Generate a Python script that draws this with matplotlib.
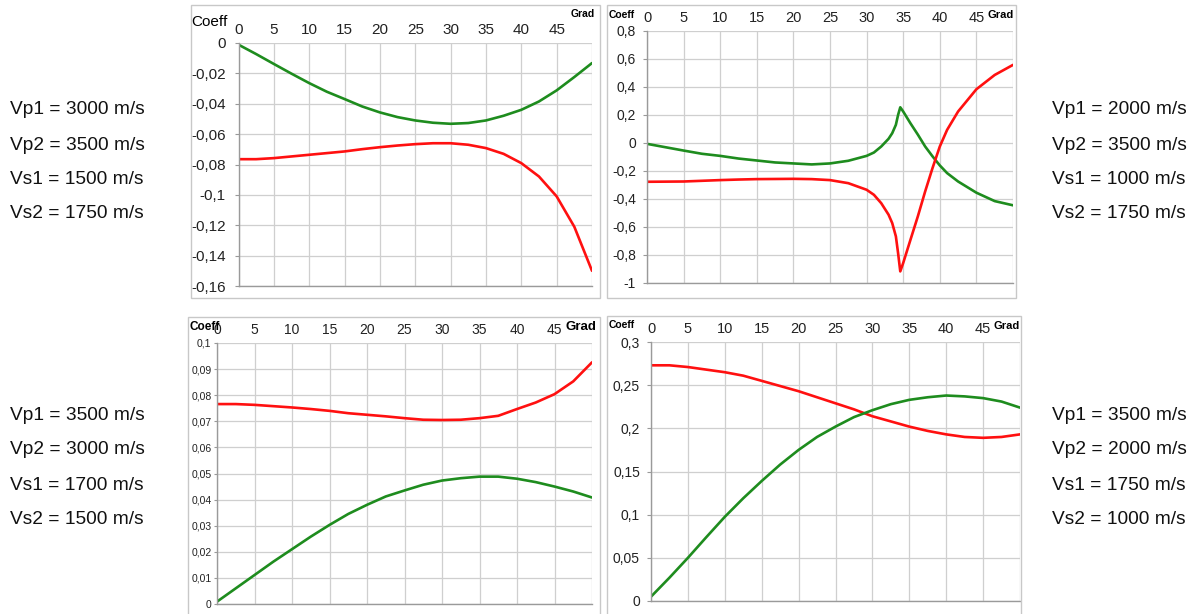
import numpy as np
import matplotlib.pyplot as plt
from matplotlib.patches import Rectangle
from matplotlib.ticker import FuncFormatter

plt.rcParams['font.family'] = ['Liberation Sans', 'DejaVu Sans']

# ---------------- data ----------------
# panel 1 : Vp1 3000, Vp2 3500, Vs1 1500, Vs2 1750
ang1 = [0, 2.5, 5, 7.5, 10, 12.5, 15, 17.5, 20, 22.5, 25, 27.5, 30, 32.5, 35,
        37.5, 40, 42.5, 45, 47.5, 50]
green1 = [-0.0011, -0.0073, -0.0138, -0.0202, -0.0264, -0.0321, -0.0369,
          -0.0418, -0.0457, -0.0488, -0.051, -0.0525, -0.0532, -0.0527, -0.051,
          -0.0479, -0.044, -0.0385, -0.0312, -0.0224, -0.0132]
red1 = [-0.0765, -0.0765, -0.0758, -0.0747, -0.0736, -0.0725, -0.0714, -0.0699,
        -0.0686, -0.0675, -0.0666, -0.066, -0.066, -0.067, -0.0692, -0.073,
        -0.0791, -0.0879, -0.101, -0.121, -0.15]

# panel 2 : Vp1 2000, Vp2 3500, Vs1 1000, Vs2 1750
ang2 = [0, 2.5, 5, 7.5, 10, 12.5, 15, 17.5, 20, 22.5, 25, 27.5, 30, 31, 32,
        33, 33.5, 34, 34.3, 34.6, 35, 36, 37, 38, 39, 40, 41, 42.5, 45, 47.5, 50]
green2 = [-0.006, -0.030, -0.054, -0.077, -0.092, -0.111, -0.125, -0.139,
          -0.146, -0.153, -0.146, -0.127, -0.092, -0.068, -0.025, 0.03, 0.07,
          0.13, 0.2, 0.255, 0.225, 0.14, 0.06, -0.025, -0.095, -0.16, -0.215,
          -0.275, -0.355, -0.415, -0.445]
red2 = [-0.277, -0.276, -0.275, -0.27, -0.265, -0.261, -0.258, -0.257, -0.256,
        -0.258, -0.265, -0.287, -0.334, -0.37, -0.43, -0.512, -0.572, -0.667,
        -0.786, -0.917, -0.857, -0.69, -0.524, -0.346, -0.18, -0.025, 0.094,
        0.225, 0.384, 0.486, 0.558]

# panel 3 : Vp1 3500, Vp2 3000, Vs1 1700, Vs2 1500
ang3 = [0, 2.5, 5, 7.5, 10, 12.5, 15, 17.5, 20, 22.5, 25, 27.5, 30, 32.5, 35,
        37.5, 40, 42.5, 45, 47.5, 50]
red3 = [0.0766, 0.0766, 0.0763, 0.0758, 0.0753, 0.0747, 0.074, 0.0731, 0.0725,
        0.0719, 0.0712, 0.0706, 0.0705, 0.0706, 0.0712, 0.0721, 0.0747, 0.0772,
        0.0804, 0.0853, 0.0926]
green3 = [0.0009, 0.006, 0.0111, 0.0162, 0.021, 0.0258, 0.0303, 0.0345, 0.038,
          0.0412, 0.0435, 0.0457, 0.0473, 0.0482, 0.0488, 0.0488, 0.048, 0.0467,
          0.045, 0.0431, 0.0408]

# panel 4 : Vp1 3500, Vp2 2000, Vs1 1750, Vs2 1000
ang4 = [0, 2.5, 5, 7.5, 10, 12.5, 15, 17.5, 20, 22.5, 25, 27.5, 30, 32.5, 35,
        37.5, 40, 42.5, 45, 47.5, 50]
red4 = [0.273, 0.273, 0.271, 0.268, 0.265, 0.261, 0.255, 0.249, 0.243, 0.236,
        0.229, 0.222, 0.214, 0.208, 0.202, 0.197, 0.193, 0.19, 0.189, 0.19,
        0.193]
green4 = [0.005, 0.027, 0.050, 0.074, 0.0975, 0.119, 0.139, 0.158, 0.175, 0.19,
          0.202, 0.213, 0.221, 0.228, 0.233, 0.236, 0.238, 0.237, 0.235, 0.231,
          0.224]

labels1 = ['Vp1 = 3000 m/s', 'Vp2 = 3500 m/s', 'Vs1 = 1500 m/s', 'Vs2 = 1750 m/s']
labels2 = ['Vp1 = 2000 m/s', 'Vp2 = 3500 m/s', 'Vs1 = 1000 m/s', 'Vs2 = 1750 m/s']
labels3 = ['Vp1 = 3500 m/s', 'Vp2 = 3000 m/s', 'Vs1 = 1700 m/s', 'Vs2 = 1500 m/s']
labels4 = ['Vp1 = 3500 m/s', 'Vp2 = 2000 m/s', 'Vs1 = 1750 m/s', 'Vs2 = 1000 m/s']

W, H = 1195, 614
GREEN = '#1e8c1e'
RED = '#ff1010'
GRID = '#cfcfcf'


def px(x, y):
    return x / W, 1 - y / H


def comma(v, pos):
    return ('%g' % (round(v, 4) + 0.0)).replace('.', ',')


fig = plt.figure(figsize=(W / 100, H / 100), dpi=100)

# light grey frames round each chart
for (x0, y0, x1, y1) in [(191, 5, 600, 298), (607, 5, 1016, 298),
                         (188, 317, 600, 640), (607, 316, 1021, 640)]:
    fig.patches.append(Rectangle(px(x0, y1), (x1 - x0) / W, (y1 - y0) / H,
                                 transform=fig.transFigure, fill=False,
                                 edgecolor='#c8c8c8', lw=1.0))


def panel(box, yticks, ysize, xsize, ypad, ylen, curves):
    l, t, r, b = box
    ax = fig.add_axes([l / W, 1 - b / H, (r - l) / W, (b - t) / H])
    for xs, ys, c in curves:
        ax.plot(xs, ys, color=c, lw=1.9, solid_capstyle='round',
                solid_joinstyle='round')
    ax.set_xlim(0, 50)
    ax.set_ylim(yticks[0], yticks[-1])
    ax.set_xticks(np.arange(0, 50, 5))
    ax.set_yticks(yticks)
    ax.yaxis.set_major_formatter(FuncFormatter(comma))
    ax.xaxis.tick_top()
    ax.tick_params(axis='x', length=0, pad=4, labelsize=xsize, colors='#222222')
    ax.tick_params(axis='y', length=ylen, pad=ypad, labelsize=ysize,
                   colors='#222222', color='#999999')
    for g in np.arange(0, 51, 5):
        ax.axvline(g, color=GRID, lw=0.9, zorder=0)
    ax.grid(axis='y', color=GRID, lw=0.9)
    ax.set_axisbelow(True)
    for s in ['top', 'right']:
        ax.spines[s].set_visible(False)
    for s in ['left', 'bottom']:
        ax.spines[s].set_color('#9a9a9a')
        ax.spines[s].set_linewidth(1.0)
    return ax


panel((238.5, 43, 592, 286), np.round(np.arange(-0.16, 0.001, 0.02), 2), 11, 11, 6, 3,
      [(ang1, green1, GREEN), (ang1, red1, RED)])
panel((647, 31, 1013, 283), np.round(np.arange(-1, 0.801, 0.2), 1), 10, 10.5, 5, 3,
      [(ang2, green2, GREEN), (ang2, red2, RED)])
panel((217, 343, 592, 604), np.round(np.arange(0, 0.1001, 0.01), 2), 7.5, 10, 2, 2,
      [(ang3, red3, RED), (ang3, green3, GREEN)])
panel((651, 342, 1020, 601), np.round(np.arange(0, 0.3001, 0.05), 2), 10, 10.5, 5, 3,
      [(ang4, red4, RED), (ang4, green4, GREEN)])

# axis captions
fig.text(*px(191, 22), 'Coeff', fontsize=11, va='center', ha='left')
fig.text(*px(595, 14), 'Grad', fontsize=7.5, fontweight='bold', va='center', ha='right')
fig.text(*px(609, 15), 'Coeff', fontsize=7.5, fontweight='bold', va='center', ha='left')
fig.text(*px(1014, 15), 'Grad', fontsize=8, fontweight='bold', va='center', ha='right')
fig.text(*px(189, 327), 'Coeff', fontsize=8.5, fontweight='bold', va='center', ha='left')
fig.text(*px(596, 327), 'Grad', fontsize=9.5, fontweight='bold', va='center', ha='right')
fig.text(*px(609, 325), 'Coeff', fontsize=7.5, fontweight='bold', va='center', ha='left')
fig.text(*px(1020, 326), 'Grad', fontsize=8, fontweight='bold', va='center', ha='right')

# velocity parameters beside each chart
for labels, x0, ys in [(labels1, 10, [110, 145, 180, 214]),
                       (labels2, 1052, [110, 145, 180, 214]),
                       (labels3, 10, [415, 450, 485, 520]),
                       (labels4, 1052, [415, 450, 485, 520])]:
    for s, y in zip(labels, ys):
        fig.text(*px(x0, y), s, fontsize=13.8, va='center', ha='left', color='#111111')

fig.savefig('out.png', dpi=100)
